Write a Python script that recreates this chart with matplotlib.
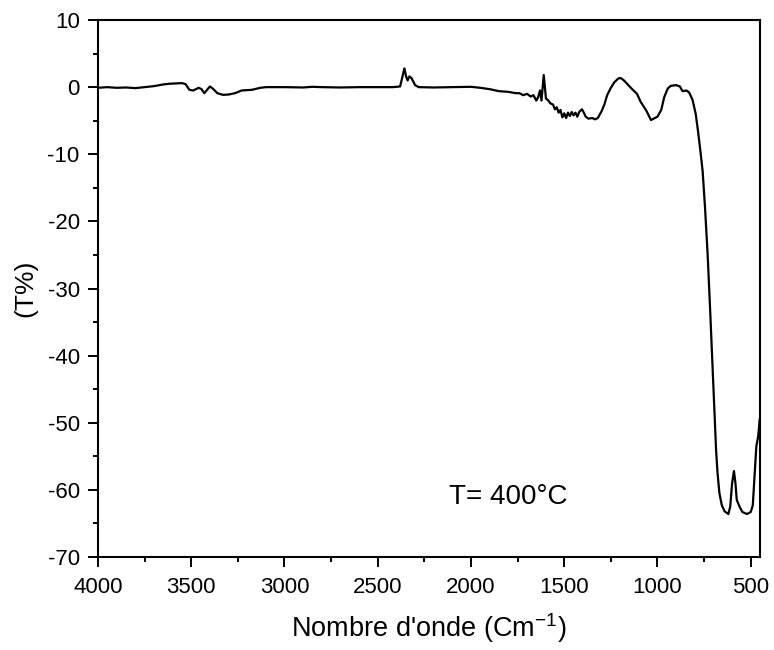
import numpy as np
import matplotlib
matplotlib.use("Agg")
import matplotlib.pyplot as plt
from matplotlib.ticker import MultipleLocator

plt.rcParams['font.family'] = ['Liberation Sans', 'DejaVu Sans']
plt.rcParams['axes.unicode_minus'] = False

# values (wavenumber in cm-1, transmittance %)
wavenumber = [4000, 3950, 3900, 3850, 3800, 3750, 3700, 3650, 3620, 3580, 3550, 3530,
              3510, 3490, 3460, 3445, 3430, 3415, 3400, 3385, 3360, 3330, 3300, 3265,
              3230, 3200, 3175, 3130, 3100, 3000, 2900, 2850, 2800, 2700, 2600, 2500,
              2420, 2380, 2368, 2357, 2348, 2340, 2330, 2318, 2300, 2280, 2200, 2100,
              2000, 1950, 1900, 1850, 1800, 1760, 1740, 1720, 1700, 1680, 1665, 1650,
              1640, 1630, 1622, 1610, 1598, 1585, 1575, 1560, 1550, 1540, 1530, 1520,
              1510, 1500, 1490, 1480, 1470, 1460, 1450, 1440, 1430, 1420, 1405, 1395,
              1385, 1370, 1350, 1335, 1320, 1300, 1285, 1270, 1250, 1232, 1210, 1197,
              1180, 1143, 1110, 1090, 1060, 1035, 1000, 980, 964, 945, 928, 900,
              880, 866, 845, 830, 812, 795, 783, 770, 758, 745, 731, 718,
              704, 692, 686, 678, 668, 655, 640, 620, 610, 600, 590, 582,
              575, 560, 545, 520, 500, 489, 480, 470, 460, 452]
transmittance = [-0.1, 0.0, -0.1, -0.05, -0.15, 0.0, 0.15, 0.4, 0.5, 0.55, 0.6, 0.45,
                 -0.4, -0.5, -0.1, -0.3, -0.9, -0.4, 0.1, -0.2, -0.9, -1.15, -1.1, -0.9,
                 -0.5, -0.45, -0.4, -0.1, 0.0, 0.0, -0.05, 0.05, 0.0, -0.05, 0.0, 0.0,
                 0.0, 0.1, 1.5, 2.8, 1.6, 1.0, 1.6, 1.3, 0.3, 0.0, -0.05, 0.0,
                 0.05, -0.1, -0.3, -0.6, -0.7, -0.9, -0.9, -1.2, -1.0, -1.4, -1.2, -2.0,
                 -1.5, -0.5, -2.0, 1.8, -1.7, -2.0, -2.4, -2.6, -3.3, -3.0, -3.8, -3.4,
                 -4.5, -3.9, -4.6, -3.8, -4.3, -3.7, -4.2, -3.8, -4.4, -3.7, -3.3, -3.8,
                 -4.4, -4.7, -4.6, -4.8, -4.6, -3.6, -2.6, -1.2, -0.1, 0.7, 1.3, 1.35,
                 1.0, -0.1, -1.0, -2.2, -3.5, -4.9, -4.4, -3.4, -1.5, -0.2, 0.2, 0.3,
                 0.1, -0.6, -0.5, -0.8, -1.9, -4.0, -6.5, -9.5, -12.5, -18, -25, -33,
                 -42, -50, -54, -57.5, -60.5, -62.3, -63.2, -63.6, -62.5, -59, -57.2, -59,
                 -61.5, -62.5, -63.3, -63.6, -63.3, -62.3, -58, -53.5, -52, -49.5]

fig = plt.figure(figsize=(7.74, 6.5), dpi=100)
ax = fig.add_axes([0.1266, 0.1431, 0.8554, 0.8261])

ax.plot(wavenumber, transmittance, color='black', linewidth=1.6)

ax.set_xlim(4000, 450)
ax.set_ylim(-70, 10)
ax.xaxis.set_major_locator(MultipleLocator(500))
ax.xaxis.set_minor_locator(MultipleLocator(250))
ax.yaxis.set_major_locator(MultipleLocator(10))
ax.yaxis.set_minor_locator(MultipleLocator(5))
ax.tick_params(which='major', direction='out', length=7.2, width=1.4, labelsize=16)
ax.tick_params(which='minor', direction='out', length=3.6, width=1.4)
ax.tick_params(axis='x', which='major', pad=7)
ax.tick_params(axis='y', which='major', pad=6)
for sp in ax.spines.values():
    sp.set_linewidth(1.5)

ax.set_xlabel("Nombre d'onde (Cm$^{\\mathregular{-1}}$)", fontsize=19.5, labelpad=10)
ax.set_ylabel("(T%)", fontsize=19, labelpad=7)

ax.text(1800, -61, "T= 400°C", fontsize=20, ha='center', va='center')

fig.savefig("out.png", dpi=100)
